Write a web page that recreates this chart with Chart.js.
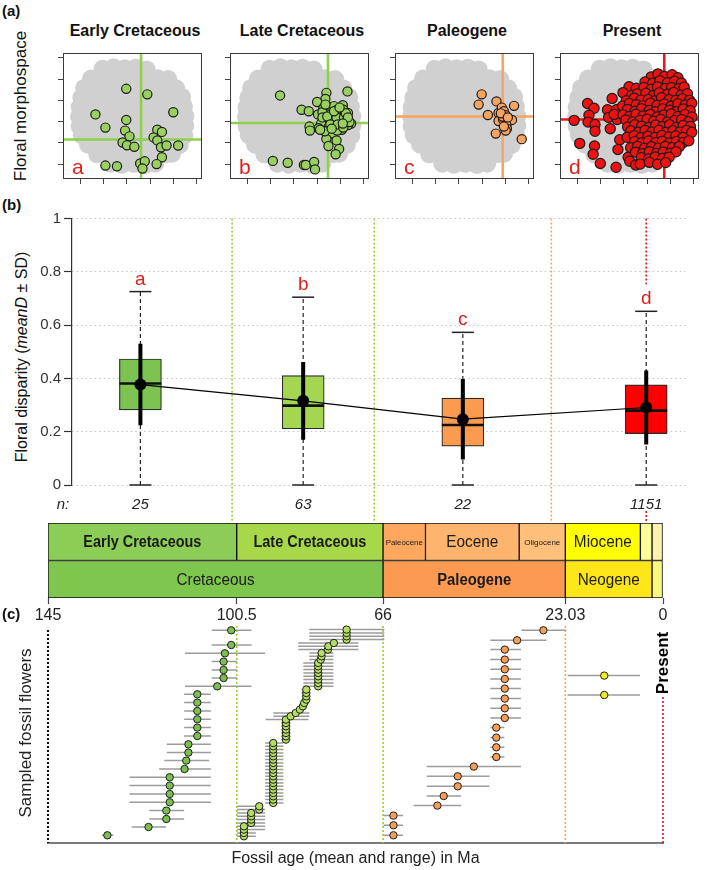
<!DOCTYPE html>
<html lang="en">
<head>
<meta charset="utf-8">
<title>Floral disparity through time</title>
<script src="https://cdn.jsdelivr.net/npm/chart.js@4.4.1/dist/chart.umd.min.js"></script>
<style>
  html,body{margin:0;padding:0;background:#fff;}
  #fig{position:relative;width:709px;height:870px;overflow:hidden;background:#fff;
       font-family:"Liberation Sans",Arial,Helvetica,sans-serif;color:#111;}
  #fig canvas{position:absolute;display:block;}
  .lbl{position:absolute;white-space:nowrap;line-height:1;}
  .panel{font-weight:bold;font-size:15px;}
  .ttl{font-weight:bold;font-size:16px;transform:translateX(-50%);}
  .rot{transform:translate(-50%,-50%) rotate(-90deg);}
</style>
</head>
<body>
<div id="fig">
  <div class="lbl panel" style="left:2px;top:3px;">(a)</div>
  <div class="lbl rot" style="left:20px;top:106px;font-size:17px;">Floral morphospace</div>
  <div class="lbl ttl" style="left:135px;top:23px;">Early Cretaceous</div>
  <div class="lbl ttl" style="left:302px;top:23px;">Late Cretaceous</div>
  <div class="lbl ttl" style="left:467px;top:23px;">Paleogene</div>
  <div class="lbl ttl" style="left:632px;top:23px;">Present</div>
  <canvas id="m0" width="157" height="144" style="left:54px;top:44px;"></canvas>
  <canvas id="m1" width="157" height="144" style="left:221px;top:44px;"></canvas>
  <canvas id="m2" width="157" height="144" style="left:386px;top:44px;"></canvas>
  <canvas id="m3" width="157" height="144" style="left:551px;top:44px;"></canvas>

  <div class="lbl panel" style="left:2px;top:197px;">(b)</div>
  <div class="lbl rot" style="left:22px;top:357px;font-size:16px;">Floral disparity (<i>meanD</i> ± SD)</div>
  <canvas id="box" width="709" height="330" style="left:0;top:195px;"></canvas>

  <canvas id="ts" width="709" height="112" style="left:0;top:515px;"></canvas>
  <div class="lbl panel" style="left:2px;top:606px;">(c)</div>
  <canvas id="fos" width="709" height="270" style="left:0;top:600px;"></canvas>
</div>

<script>
// ======================= DATA =======================
const periods = ['Early Cretaceous', 'Late Cretaceous', 'Paleogene', 'Present'];

// ---- (a) floral morphospace (ordination axes, arbitrary units) ----
const morphTicksX = [-3, -2, -1, 0, 1, 2];
const morphTicksY = [-2, -1, 0, 1, 2, 3];

// background cloud of all sampled flowers (coarse sample of the grey cloud)
const morphCloud = [
  [-2.05,2.48],[-1.58,2.55],[-1.1,2.5],[-0.62,2.53],[-0.15,2.45],
  [-2.55,2.02],[-2.08,2.08],[-1.6,2.03],[-1.12,2.07],[-0.63,2.02],[-0.15,2.08],[0.33,2.03],[0.78,2.0],
  [-2.85,1.58],[-2.36,1.63],[-1.86,1.58],[-1.37,1.62],[-0.87,1.57],[-0.37,1.62],[0.14,1.58],[0.63,1.63],[1.12,1.57],
  [-2.97,1.13],[-2.47,1.17],[-1.97,1.12],[-1.47,1.18],[-0.97,1.13],[-0.47,1.17],[0.03,1.12],[0.53,1.18],[1.02,1.13],[1.38,1.16],
  [-3.04,0.68],[-2.54,0.72],[-2.04,0.67],[-1.54,0.73],[-1.04,0.68],[-0.54,0.72],[-0.04,0.67],[0.46,0.73],[0.96,0.68],[1.46,0.71],
  [-3.07,0.23],[-2.57,0.27],[-2.07,0.22],[-1.57,0.28],[-1.07,0.23],[-0.57,0.27],[-0.07,0.22],[0.43,0.28],[0.93,0.23],[1.52,0.26],
  [-3.04,-0.22],[-2.54,-0.18],[-2.04,-0.23],[-1.54,-0.17],[-1.04,-0.22],[-0.54,-0.18],[-0.04,-0.23],[0.46,-0.17],[0.96,-0.22],[1.52,-0.19],
  [-2.95,-0.63],[-2.45,-0.68],[-1.95,-0.62],[-1.45,-0.67],[-0.95,-0.63],[-0.45,-0.68],[0.05,-0.62],[0.55,-0.67],[1.05,-0.63],[1.48,-0.66],
  [-2.68,-1.08],[-2.18,-1.13],[-1.68,-1.07],[-1.18,-1.12],[-0.68,-1.08],[-0.18,-1.13],[0.32,-1.07],[0.82,-1.12],[1.28,-1.09],
  [-2.28,-1.53],[-1.78,-1.58],[-1.28,-1.52],[-0.78,-1.57],[-0.28,-1.53],[0.22,-1.58],[0.68,-1.52],[0.95,-1.5],
  [-1.72,-1.97],[-1.22,-2.02],[-0.72,-1.98],[-0.22,-2.03],[0.22,-1.97]
];

const morphEarlyK = [
  [-1.03,1.54],[-0.12,1.28],[-2.36,0.34],[1.0,0.44],[-1.03,0.08],[-1.93,-0.28],[-1.08,-0.42],[-0.89,-0.69],
  [0.31,-0.38],[0.51,-0.48],[0.15,-0.74],[0.31,-0.88],[-1.19,-0.98],[-1.0,-1.11],[-0.68,-1.18],[0.47,-1.2],
  [0.71,-1.12],[1.21,-1.12],[0.51,-1.67],[-1.93,-2.06],[-1.43,-2.09],[-0.43,-1.96],[-0.23,-1.86],[-0.33,-2.2],[0.28,-1.99]
];

const morphLateK = [
  [-1.6,1.23],[1.31,1.42],[0.4,1.35],[0.36,1.06],[0.0,0.92],[-0.67,0.56],[-0.36,0.49],[0.04,0.34],[0.27,0.63],[0.47,0.7],
  [0.73,0.73],[1.11,0.77],[1.13,0.56],[1.33,0.41],[1.0,0.3],[0.67,0.41],[0.47,0.34],[0.23,0.44],[0.87,0.56],[0.6,0.13],
  [0.36,0.06],[0.17,-0.09],[0.71,-0.02],[1.0,0.01],[1.27,0.13],[1.47,-0.09],[1.33,-0.16],[1.07,-0.38],[0.8,-0.33],[0.49,-0.28],
  [0.07,-0.31],[-0.33,-0.23],[-0.31,-0.42],[0.67,-0.56],[0.87,-0.42],[0.4,-0.81],[0.84,-0.88],[0.49,-1.14],[0.95,-1.28],[0.8,-1.53],
  [-1.91,-1.84],[-1.27,-1.93],[-0.57,-2.03],[-0.49,-2.03],[-0.13,-1.89],[-0.09,-2.24],[0.23,0.2],[0.44,0.24],[0.84,0.2],[1.16,0.2],
  [0.57,-0.13],[0.89,-0.13],[1.13,-0.28],[1.4,-0.02],[1.24,0.39],[0.36,0.8],[0.73,0.49],[0.97,0.66],[0.33,-0.45],[0.13,-0.38],
  [1.33,0.2],[0.63,-0.33],[1.11,-0.09]
];

const morphPaleogene = [
  [-0.02,1.28],[-0.15,0.8],[0.62,0.95],[1.38,0.74],[0.25,0.31],[0.71,0.41],[0.85,0.66],[0.94,0.49],
  [1.02,0.3],[0.71,0.03],[0.91,0.1],[1.07,-0.02],[1.29,0.08],[1.05,-0.16],[1.07,-0.33],[1.02,-0.42],
  [0.59,-0.56],[1.71,-0.82],[0.89,0.24],[0.81,0.39],[1.11,0.2],[0.94,-0.23]
];

const morphPresent = [
  [-3.15,0.06],[-2.91,-1.02],[-2.57,0.85],[-2.29,0.63],[-2.51,0.3],[-2.55,-0.02],[-2.25,-0.13],[-2.25,-0.45],
  [-2.27,-1.14],[-2.33,-1.53],[-2.02,-1.96],[-1.71,0.56],[-1.66,0.2],[-1.51,1.09],[-1.59,-0.33],[-1.18,-0.85],
  [-1.26,-1.31],[-1.34,-2.14],[-1.33,0.56],[-0.82,-1.67],[-0.75,-1.86],[-0.49,-2.03],[-0.15,-1.74],[-1.29,0.1],[-1.42,0.34],
  [0.18,2.1],[0.47,2.24],[0.74,2.12],[1.08,2.2],[1.33,2.06],
  [-0.09,1.86],[0.24,1.8],[0.55,1.92],[0.88,1.83],[1.18,1.9],[1.48,1.81],
  [-0.78,1.64],[-0.47,1.57],[-0.14,1.6],[0.18,1.52],[0.45,1.63],[0.79,1.56],[1.06,1.6],[1.35,1.54],[1.6,1.62],
  [-1.04,1.36],[-0.66,1.24],[-0.43,1.3],[-0.05,1.33],[0.26,1.22],[0.52,1.35],[0.89,1.29],[1.15,1.37],[1.47,1.24],[1.74,1.31],
  [-0.9,0.98],[-0.55,1.1],[-0.27,1.01],[0.05,1.04],[0.33,0.97],[0.62,1.12],[0.95,1.03],[1.24,0.99],[1.52,1.07],[1.83,1.0],
  [-1.06,0.73],[-0.76,0.85],[-0.47,0.79],[-0.18,0.74],[0.14,0.86],[0.43,0.76],[0.74,0.83],[1.03,0.72],[1.33,0.84],[1.64,0.78],[1.93,0.86],
  [-0.85,0.57],[-0.52,0.49],[-0.24,0.6],[0.09,0.52],[0.37,0.47],[0.68,0.6],[0.97,0.54],[1.27,0.47],[1.56,0.59],[1.86,0.51],
  [-1.04,0.32],[-0.76,0.24],[-0.48,0.35],[-0.17,0.27],[0.13,0.34],[0.44,0.22],[0.73,0.31],[1.04,0.36],[1.33,0.24],[1.63,0.33],[1.94,0.22],
  [-0.92,0.08],[-0.62,-0.01],[-0.31,0.06],[0.0,0.11],[0.29,0.02],[0.59,0.1],[0.88,-0.02],[1.19,0.05],[1.49,0.1],[1.79,-0.01],
  [-0.84,-0.25],[-0.53,-0.14],[-0.24,-0.21],[0.07,-0.27],[0.37,-0.16],[0.66,-0.24],[0.97,-0.15],[1.26,-0.27],[1.56,-0.18],[1.87,-0.23],
  [-0.7,-0.43],[-0.38,-0.5],[-0.09,-0.41],[0.21,-0.49],[0.51,-0.4],[0.81,-0.51],[1.11,-0.43],[1.41,-0.49],[1.7,-0.41],[1.93,-0.5],
  [-0.86,-0.73],[-0.56,-0.66],[-0.26,-0.75],[0.04,-0.68],[0.34,-0.74],[0.64,-0.65],[0.94,-0.72],[1.24,-0.67],[1.55,-0.74],
  [-0.54,-0.93],[-0.24,-1.0],[0.06,-0.91],[0.36,-0.99],[0.66,-0.92],[0.96,-1.0],[1.26,-0.93],[1.56,-0.98],[1.8,-0.9],
  [-0.71,-1.22],[-0.41,-1.16],[-0.11,-1.25],[0.19,-1.18],[0.49,-1.24],[0.79,-1.16],[1.09,-1.22],[1.39,-1.17],
  [-0.5,-1.43],[-0.2,-1.5],[0.1,-1.41],[0.4,-1.49],[0.7,-1.42],[1.0,-1.48],[1.25,-1.41],
  [-0.25,-1.69],[0.06,-1.75],[0.35,-1.66],[0.66,-1.73],[0.95,-1.67],
  [-0.3,-1.99],[0.1,-1.91],[0.45,-2.0],[0.8,-1.92]
];

// centroids of each period (cross-hair lines)
const centroidX = [-0.39, 0.47, 0.89, 0.74];
const centroidY = [-0.84, -0.06, 0.24, 0.10];

// ---- (b) floral disparity (meanD) ----
const boxAge      = [122.75, 83.25, 44.5, 0];      // plotted at mid-age of each interval (Ma)
const boxQ1       = [0.282, 0.211, 0.146, 0.193];
const boxMedian   = [0.381, 0.298, 0.225, 0.279];
const boxQ3       = [0.473, 0.411, 0.326, 0.376];
const whiskerLow  = [0, 0, 0, 0];
const whiskerHigh = [0.726, 0.705, 0.573, 0.652];
const meanD       = [0.377, 0.316, 0.247, 0.291];
const sdD         = [0.153, 0.146, 0.151, 0.139];
const sigLetters  = ['a', 'b', 'c', 'd'];
const nFlowers    = [25, 63, 22, 1151];

// ---- geological time scale ----
const boundaryAge = [145, 100.5, 66, 23.03, 0];
const ageTicks    = [145, 100.5, 66, 23.03, 0];
const tsRow   = ['Epoch','Epoch','Epoch','Epoch','Epoch','Epoch','Epoch','Epoch','Period','Period','Period','Period'];
const tsName  = ['Early Cretaceous','Late Cretaceous','Paleocene','Eocene','Oligocene','Miocene','Pliocene','Pleistocene',
                 'Cretaceous','Paleogene','Neogene','Quaternary'];
const tsStart = [145, 100.5, 66, 56, 33.9, 23.03, 5.333, 2.58, 145, 66, 23.03, 2.58];
const tsEnd   = [100.5, 66, 56, 33.9, 23.03, 5.333, 2.58, 0, 66, 23.03, 2.58, 0];

// ---- (c) sampled fossil flowers: mean age, oldest, youngest (Ma), row position ----
const ekMean  = [131.0,121.3,117.1,117.1,116.3,116.3,116.3,116.3,112.8,112.4,111.9,111.9,109.8,109.8,109.8,109.8,109.8,109.8,105.1,103.6,103.6,103.6,103.3,101.8,101.8];
const ekOld   = [132.3,125.3,121.1,121.1,125.8,125.8,125.8,125.8,118.8,117.6,117.0,117.0,112.9,112.9,112.9,112.9,112.9,112.9,112.7,106.4,106.4,106.4,112.7,106.4,106.4];
const ekYoung = [129.6,117.2,112.9,112.9,106.6,106.6,106.6,106.6,106.6,107.0,106.6,106.6,106.6,106.6,106.6,106.6,106.6,106.6,97.0,100.4,100.4,100.4,93.8,97.0,97.0];
const ekRow   = [7.7,16.0,24.0,32.4,40.7,49.0,57.4,65.7,74.0,82.4,90.4,98.7,107.0,115.4,123.7,132.0,140.4,148.7,156.7,165.0,173.0,181.4,189.7,198.0,212.7];

const lkMean  = [98.8,98.8,98.8,98.8,97.1,97.1,97.1,97.1,95.2,95.2,
                 91.9,91.9,91.9,91.9,91.9,91.9,91.9,91.9,91.9,91.9,91.9,91.9,91.9,91.9,91.9,91.9,91.9,91.9,91.9,
                 88.9,88.9,88.9,88.9,88.9,88.9,88.9,87.8,86.6,85.6,84.9,84.6,84.1,84.1,84.1,84.1,
                 81.3,81.3,81.3,81.3,81.3,81.3,81.3,81.3,80.7,80.5,80.5,79.0,78.9,77.6,74.6,74.6,74.6,74.6];
const lkOld   = [100.4,100.4,100.4,100.4,100.4,100.4,100.4,100.4,100.4,100.4,
                 93.8,93.8,93.8,93.8,93.8,93.8,93.8,93.8,93.8,93.8,93.8,93.8,93.8,93.8,93.8,93.8,93.8,93.8,93.8,
                 90.0,90.0,90.0,90.0,90.0,90.0,93.7,91.9,91.9,86.5,86.0,85.5,85.2,85.2,85.2,85.2,
                 84.8,84.8,84.8,84.8,84.8,84.8,84.8,84.8,83.4,83.4,83.4,86.0,86.0,86.0,83.4,83.4,83.4,83.4];
const lkYoung = [96.0,96.0,93.8,93.8,93.8,93.8,93.8,93.8,93.8,94.3,
                 89.5,89.5,89.5,89.5,89.5,89.5,89.5,89.5,89.5,89.5,89.5,89.5,89.5,89.5,89.5,89.5,89.5,89.5,89.5,
                 87.8,87.8,87.8,87.8,87.8,87.8,83.6,83.4,83.4,84.5,84.0,83.5,83.2,83.2,83.2,83.2,
                 77.7,77.7,77.7,77.7,77.7,77.7,77.7,77.7,77.7,77.7,77.7,71.8,71.8,71.8,65.7,65.7,65.7,65.7];
const lkRow   = [6.7,10.0,13.4,16.7,20.0,23.4,26.7,30.0,33.4,36.7,
                 40.0,43.4,46.7,50.0,53.4,56.7,60.0,63.4,66.7,70.0,
                 73.4,76.7,80.0,83.4,86.7,90.0,93.4,96.7,100.0,103.4,
                 106.7,110.0,113.4,116.7,120.0,123.4,126.7,130.0,133.4,136.7,
                 140.0,143.4,146.7,150.0,153.4,156.7,160.0,163.4,166.7,170.0,
                 173.4,176.7,180.0,183.4,186.7,190.0,193.4,196.7,200.0,203.4,
                 206.7,210.0,213.4];

const pgMean  = [63.55,63.55,63.55,53.2,51.7,48.4,48.4,44.6,39.3,39.3,39.3,39.3,37.3,37.3,37.3,37.3,37.3,37.3,37.3,37.3,34.4,28.2];
const pgOld   = [65.9,65.9,65.9,58.8,55.7,55.7,55.7,55.7,40.7,40.7,40.7,40.7,40.7,40.7,40.7,40.7,40.7,40.7,40.7,40.7,40.7,33.4];
const pgYoung = [61.3,61.3,61.3,47.6,47.6,40.9,40.9,33.5,37.4,37.4,37.4,37.4,33.5,33.5,33.5,33.5,33.5,33.5,33.5,33.5,27.5,22.8];
const pgRow   = [7.7,17.7,27.4,37.4,47.0,56.7,66.7,76.4,86.0,95.7,105.4,115.4,125.0,134.7,144.4,154.4,164.0,173.7,183.4,193.4,202.7,212.7];

const ngMean  = [13.85, 13.85];
const ngOld   = [22.5, 22.5];
const ngYoung = [5.4, 5.4];
const ngRow   = [167.4, 148.0];

// ======================= STYLE =======================
const FONT = '"Liberation Sans", Arial, Helvetica, sans-serif';
Chart.defaults.font.family = FONT;
Chart.defaults.color = '#222';
Chart.defaults.animation = false;

const morphFill   = ['#9ad05f', '#9ad05f', '#f7a462', '#ee1111'];
const morphLine   = ['#8fd04f', '#8fd04f', '#f5a661', '#e51b1b'];
const morphRadius = [4.6, 4.6, 4.6, 5.1];
const boxColors   = ['#7dc352', '#a5d652', '#fa9b50', '#ff0000'];
const boundaryColors = ['#111111', '#9acd32', '#9acd32', '#f4a460', '#e31a1c'];
const sigColor    = '#e0201b';
const tsColors = {
  'Early Cretaceous': '#8ccd57', 'Late Cretaceous': '#a6d84a', 'Paleocene': '#fda75f', 'Eocene': '#fdb46c',
  'Oligocene': '#fec07a', 'Miocene': '#ffff00', 'Pliocene': '#ffff99', 'Pleistocene': '#fff2ae',
  'Cretaceous': '#7fc64e', 'Paleogene': '#fd9a52', 'Neogene': '#ffe619', 'Quaternary': '#f9f97f'
};
const tsLabelStyle = {
  'Early Cretaceous': {weight: 'bold', size: 16, width: 118},
  'Late Cretaceous':  {weight: 'bold', size: 16, width: 113},
  'Paleocene':        {weight: 'normal', size: 8, width: 37},
  'Eocene':           {weight: 'normal', size: 16, width: 52},
  'Oligocene':        {weight: 'normal', size: 8, width: 40},
  'Miocene':          {weight: 'normal', size: 16, width: 58},
  'Cretaceous':       {weight: 'normal', size: 16, width: 78},
  'Paleogene':        {weight: 'bold', size: 16, width: 74},
  'Neogene':          {weight: 'normal', size: 16, width: 62}
};
const fossilFill = ['#7bc04f', '#b4de62', '#f69d56', '#f2ec22'];

const toXY = arr => arr.map(p => ({x: p[0], y: p[1]}));
const baseOpts = {
  responsive: false, animation: false, events: [], devicePixelRatio: 1,
  plugins: {legend: {display: false}, tooltip: {enabled: false}, title: {display: false}}
};

// ======================= (a) MORPHOSPACE =======================
const morphPlugin = {
  id: 'morphDeco',
  beforeDatasetDraw(chart, args, opts) {
    if (args.index !== 1) return;
    const {ctx, chartArea: ca, scales: {x, y}} = chart;
    const px = x.getPixelForValue(centroidX[opts.idx]);
    const py = y.getPixelForValue(centroidY[opts.idx]);
    ctx.save();
    ctx.beginPath(); ctx.rect(ca.left, ca.top, ca.width, ca.height); ctx.clip();
    ctx.strokeStyle = morphLine[opts.idx]; ctx.lineWidth = 2.6;
    ctx.beginPath();
    ctx.moveTo(px, ca.top); ctx.lineTo(px, ca.bottom);
    ctx.moveTo(ca.left, py); ctx.lineTo(ca.right, py);
    ctx.stroke();
    ctx.restore();
  },
  afterDraw(chart, args, opts) {
    const {ctx, chartArea: ca} = chart;
    ctx.save();
    ctx.strokeStyle = '#3a3a3a'; ctx.lineWidth = 1;
    ctx.strokeRect(ca.left + 0.5, ca.top + 0.5, ca.width - 1, ca.height - 1);
    ctx.fillStyle = sigColor;
    ctx.font = '21px ' + FONT;
    ctx.textAlign = 'left'; ctx.textBaseline = 'alphabetic';
    ctx.fillText(sigLetters[opts.idx], ca.left + 9, ca.bottom - 5);
    ctx.restore();
  }
};

const morphSets = [morphEarlyK, morphLateK, morphPaleogene, morphPresent];
morphSets.forEach((pts, idx) => {
  new Chart(document.getElementById('m' + idx), {
    type: 'scatter',
    data: {datasets: [
      {label: 'all flowers', data: toXY(morphCloud), pointRadius: 9, pointBackgroundColor: '#d0d0d0',
       pointBorderWidth: 0, pointBorderColor: 'rgba(0,0,0,0)', order: 2},
      {label: periods[idx], data: toXY(pts), pointRadius: morphRadius[idx], pointBackgroundColor: morphFill[idx],
       pointBorderColor: '#1b1b1b', pointBorderWidth: 1.2, order: 1}
    ]},
    options: Object.assign({}, baseOpts, {
      layout: {padding: {top: 1, right: 1, left: 0, bottom: 0}},
      plugins: Object.assign({}, baseOpts.plugins, {morphDeco: {idx}}),
      scales: {
        x: {type: 'linear', min: -3.76, max: 2.24,
            afterBuildTicks: s => { s.ticks = morphTicksX.map(v => ({value: v})); },
            ticks: {display: false},
            grid: {drawOnChartArea: false, drawTicks: true, tickLength: 5, tickColor: '#444', tickWidth: 1},
            border: {display: false},
            afterFit: s => { s.height = 6; }},
        y: {type: 'linear', min: -2.69, max: 3.22,
            afterBuildTicks: s => { s.ticks = morphTicksY.map(v => ({value: v})); },
            ticks: {display: false},
            grid: {drawOnChartArea: false, drawTicks: true, tickLength: 5, tickColor: '#444', tickWidth: 1},
            border: {display: false},
            afterFit: s => { s.width = 6; }}
      }
    }),
    plugins: [morphPlugin]
  });
});

// ======================= (b) DISPARITY BOXPLOT =======================
const whiskerSegs = [], capPts = [], medianPts = [], sdSegs = [], meanPts = [];
boxAge.forEach((x, i) => {
  whiskerSegs.push({x, y: whiskerLow[i]}, {x, y: whiskerHigh[i]}, {x, y: null});
  capPts.push({x, y: whiskerLow[i]}, {x, y: whiskerHigh[i]});
  medianPts.push({x, y: boxMedian[i]});
  sdSegs.push({x, y: meanD[i] - sdD[i]}, {x, y: meanD[i] + sdD[i]}, {x, y: null});
  meanPts.push({x, y: meanD[i]});
});

const boxPlugin = {
  id: 'boxDeco',
  beforeDatasetsDraw(chart) {
    const {ctx, chartArea: ca, scales: {x, y}} = chart;
    ctx.save();
    ctx.lineWidth = 1.6; ctx.setLineDash([2, 2]);
    boundaryAge.forEach((age, i) => {
      const px = x.getPixelForValue(age);
      if (px < ca.left) return;
      ctx.strokeStyle = boundaryColors[i];
      ctx.beginPath();
      if (age === boxAge[3]) {
        ctx.moveTo(px, ca.top); ctx.lineTo(px, y.getPixelForValue(whiskerHigh[3]) - 27);
        ctx.moveTo(px, chart.height - 14); ctx.lineTo(px, chart.height - 3);
      } else {
        ctx.moveTo(px, ca.top); ctx.lineTo(px, chart.height - 3);
      }
      ctx.stroke();
    });
    ctx.restore();
  },
  afterDatasetsDraw(chart) {
    const {ctx, chartArea: ca, scales: {x, y}} = chart;
    ctx.save();
    ctx.textAlign = 'center';
    ctx.fillStyle = sigColor;
    ctx.font = '19px ' + FONT;
    ctx.textBaseline = 'alphabetic';
    sigLetters.forEach((l, i) => {
      ctx.fillText(l, x.getPixelForValue(boxAge[i]), y.getPixelForValue(whiskerHigh[i]) - 7);
    });
    ctx.fillStyle = '#222';
    ctx.font = 'italic 15px ' + FONT;
    ctx.textBaseline = 'middle';
    const ny = ca.bottom + 20;
    ctx.fillText('n:', 63, ny);
    nFlowers.forEach((n, i) => ctx.fillText(String(n), x.getPixelForValue(boxAge[i]), ny));
    ctx.restore();
  }
};

new Chart(document.getElementById('box'), {
  type: 'bar',
  data: {datasets: [
    {type: 'line', label: 'range', data: whiskerSegs, borderColor: '#222', borderWidth: 1.2, borderDash: [4, 3],
     pointRadius: 0, spanGaps: false, clip: false, order: 6},
    {type: 'bar', label: 'IQR', data: boxAge.map((x, i) => ({x, y: [boxQ1[i], boxQ3[i]]})),
     backgroundColor: boxColors, borderColor: '#2a2a2a', borderWidth: 1.2, borderSkipped: false,
     barThickness: 42, clip: false, order: 5},
    {type: 'scatter', label: 'caps', data: capPts, pointStyle: 'line', pointRadius: 11,
     pointBorderWidth: 1.5, pointBorderColor: '#222', clip: false, order: 4},
    {type: 'scatter', label: 'median', data: medianPts, pointStyle: 'line', pointRadius: 21,
     pointBorderWidth: 2.6, pointBorderColor: '#111', clip: false, order: 3},
    {type: 'line', label: 'SD', data: sdSegs, borderColor: '#000', borderWidth: 4, pointRadius: 0,
     spanGaps: false, clip: false, order: 2},
    {type: 'line', label: 'trend', data: meanPts, borderColor: '#000', borderWidth: 1.2, pointRadius: 0,
     clip: false, order: 1},
    {type: 'scatter', label: 'meanD', data: meanPts, pointRadius: 6, pointBackgroundColor: '#000',
     pointBorderColor: '#000', pointBorderWidth: 0, clip: false, order: 0}
  ]},
  options: Object.assign({}, baseOpts, {
    layout: {padding: {top: 11, right: 6, bottom: 40, left: 0}},
    scales: {
      x: {type: 'linear', reverse: true, offset: false, min: -9.51, max: 139.35, display: false},
      y: {type: 'linear', min: 0, max: 1,
          ticks: {stepSize: 0.2, font: {size: 15}, color: '#333', padding: 3,
                  callback: v => String(Math.round(v * 10) / 10)},
          grid: {color: '#c4c4c4', lineWidth: 1, tickLength: 8, tickColor: '#333', tickWidth: 1.2},
          border: {display: true, color: '#333', width: 1.2, dash: [1.5, 3]},
          afterFit: s => { s.width = 72; }}
    }
  }),
  plugins: [boxPlugin]
});

// ======================= TIME SCALE =======================
const tsPlugin = {
  id: 'tsLabels',
  afterDatasetsDraw(chart) {
    const {ctx} = chart;
    const meta = chart.getDatasetMeta(0);
    ctx.save();
    ctx.fillStyle = '#1a1a1a';
    ctx.textAlign = 'center'; ctx.textBaseline = 'middle';
    meta.data.forEach((bar, i) => {
      const st = tsLabelStyle[tsName[i]];
      if (!st) return;
      ctx.font = st.weight + ' ' + st.size + 'px ' + FONT;
      ctx.fillText(tsName[i], (bar.x + bar.base) / 2, bar.y + 1, st.width);
    });
    ctx.restore();
  }
};

new Chart(document.getElementById('ts'), {
  type: 'bar',
  data: {labels: ['Epoch', 'Period'], datasets: [{
    label: 'Geological time scale',
    data: tsName.map((n, i) => ({y: tsRow[i], x: [tsStart[i], tsEnd[i]]})),
    backgroundColor: tsName.map(n => tsColors[n]),
    borderColor: '#111', borderWidth: 1, borderSkipped: false,
    barPercentage: 1, categoryPercentage: 1
  }]},
  options: Object.assign({}, baseOpts, {
    indexAxis: 'y',
    layout: {padding: {top: 8, right: 46, left: 48, bottom: 0}},
    scales: {
      x: {type: 'linear', reverse: true, offset: false, min: 0, max: 145, position: 'bottom',
          afterBuildTicks: s => { s.ticks = ageTicks.map(v => ({value: v})); },
          ticks: {callback: v => String(v), font: {size: 16}, color: '#222', padding: 2, autoSkip: false, maxRotation: 0},
          grid: {drawOnChartArea: false, tickLength: 6, tickColor: '#444', tickWidth: 1.2},
          border: {display: false},
          afterFit: s => { s.height = 29; }},
      y: {type: 'category', display: false}
    }
  }),
  plugins: [tsPlugin]
});

// ======================= (c) FOSSIL AGES =======================
function rangeSegs(old, young, row) {
  const out = [];
  row.forEach((r, i) => { out.push({x: old[i], y: r}, {x: young[i], y: r}, {x: null, y: null}); });
  return out;
}
function meanPoints(mean, row) { return mean.map((m, i) => ({x: m, y: row[i]})); }

const groups = [
  [ekMean, ekOld, ekYoung, ekRow],
  [lkMean, lkOld, lkYoung, lkRow],
  [pgMean, pgOld, pgYoung, pgRow],
  [ngMean, ngOld, ngYoung, ngRow]
];
const groupNames = ['Early Cretaceous', 'Late Cretaceous', 'Paleogene', 'Neogene'];
const fossilSets = [];
groups.forEach((g, i) => {
  fossilSets.push({type: 'line', label: groupNames[i] + ' range', data: rangeSegs(g[1], g[2], g[3]),
    borderColor: '#9c9c9c', borderWidth: 1.5, pointRadius: 0, spanGaps: false, clip: false, order: 10});
});
groups.forEach((g, i) => {
  fossilSets.push({type: 'scatter', label: groupNames[i], data: meanPoints(g[0], g[3]),
    pointRadius: 3.7, pointBackgroundColor: fossilFill[i], pointBorderColor: '#1e1e1e', pointBorderWidth: 1,
    clip: false, order: 1});
});

const fossilPlugin = {
  id: 'fosDeco',
  beforeDatasetsDraw(chart) {
    const {ctx, chartArea: ca, scales: {x}} = chart;
    ctx.save();
    boundaryAge.forEach((age, i) => {
      const px = x.getPixelForValue(age);
      let top = ca.top + 3;
      ctx.lineWidth = 1.6;
      if (i === 0) { top = ca.top + 7; ctx.lineWidth = 2.2; }
      if (i === boundaryAge.length - 1) top = ca.top + 74;
      ctx.setLineDash([2, 2]);
      ctx.strokeStyle = boundaryColors[i];
      ctx.beginPath(); ctx.moveTo(px, top); ctx.lineTo(px, ca.bottom); ctx.stroke();
    });
    ctx.restore();
  },
  afterDatasetsDraw(chart) {
    const {ctx, chartArea: ca, scales: {x}} = chart;
    ctx.save();
    ctx.translate(x.getPixelForValue(0), ca.top + 40);
    ctx.rotate(-Math.PI / 2);
    ctx.fillStyle = '#000';
    ctx.font = 'bold 17px ' + FONT;
    ctx.textAlign = 'center'; ctx.textBaseline = 'middle';
    ctx.fillText(periods[3], 0, 0);
    ctx.restore();
  }
};

new Chart(document.getElementById('fos'), {
  type: 'scatter',
  data: {datasets: fossilSets},
  options: Object.assign({}, baseOpts, {
    layout: {padding: {top: 23, right: 46, bottom: 0, left: 0}},
    scales: {
      x: {type: 'linear', reverse: true, min: 0, max: 145, position: 'bottom',
          ticks: {display: false}, grid: {display: false},
          border: {display: true, color: '#7a7a7a', width: 2},
          title: {display: true, text: 'Fossil age (mean and range) in Ma', font: {size: 16}, color: '#222',
                  padding: {top: 0, bottom: 2}},
          afterFit: s => { s.height = 27; }},
      y: {type: 'linear', min: 0, max: 220,
          ticks: {display: false}, grid: {display: false}, border: {display: false},
          title: {display: true, text: 'Sampled fossil flowers', font: {size: 17}, color: '#222',
                  padding: {top: 16, bottom: 0}},
          afterFit: s => { s.width = 48; }}
    }
  }),
  plugins: [fossilPlugin]
});
</script>
</body>
</html>
